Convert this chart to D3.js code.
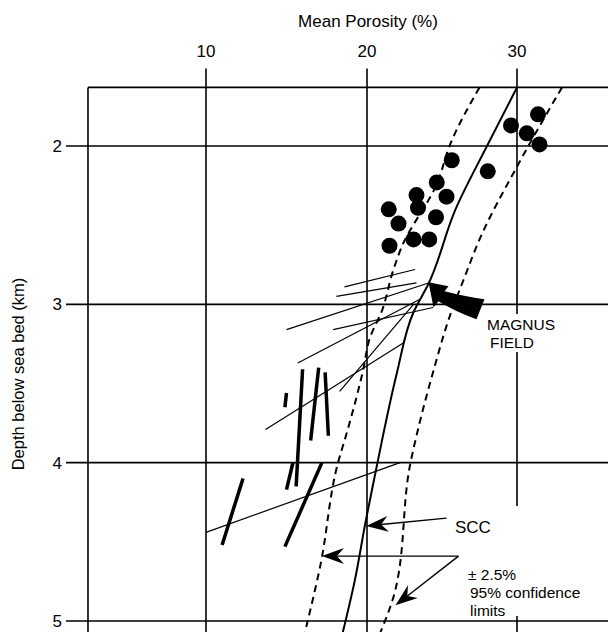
<!DOCTYPE html>
<html>
<head>
<meta charset="utf-8">
<script src="https://d3js.org/d3.v7.min.js"></script>
<style>
  body { margin: 0; background: #fff; }
  text { font-family: "Liberation Sans", Arial, sans-serif; fill: #000; }
</style>
</head>
<body>
<div class="chart"></div>
<script>
// ticks
var xTicks = [10, 20, 30];
var yTicks = [2, 3, 4, 5];

// SCC curve [porosity %, depth km]
var scc = [[30.0, 1.63], [28.0, 2.0], [25.9, 2.4], [24.1, 2.87], [23.1, 3.05],
           [22.0, 3.43], [21.0, 3.86], [20.7, 4.0], [19.9, 4.38], [19.25, 4.74], [18.5, 5.07]];
// 95% confidence limits (dashed)
var confLow = [[27.5, 1.63], [25.5, 2.0], [24.7, 2.23], [22.3, 2.64], [21.7, 2.8], [21.0, 3.04],
               [20.2, 3.21], [19.75, 3.42], [18.75, 3.81], [18.2, 4.0], [17.1, 4.65], [16.15, 5.07]];
var confHigh = [[33.0, 1.63], [30.0, 2.13], [27.5, 2.59], [26.5, 2.83], [25.5, 3.08], [24.4, 3.43],
                [23.4, 3.79], [22.9, 4.0], [21.9, 4.8], [20.9, 5.07]];

// core porosity points
var dotPor   = [31.4, 29.6, 30.65, 31.5, 25.65, 28.05, 24.65, 23.3, 25.3, 23.4, 21.45, 24.6, 22.1, 21.5, 23.1, 24.15];
var dotDepth = [1.80, 1.87, 1.92, 1.99, 2.09, 2.16, 2.23, 2.31, 2.32, 2.39, 2.40, 2.45, 2.49, 2.63, 2.59, 2.59];

// thin trend lines [p1, d1, p2, d2]
var thinLines = [
  [18.6, 2.89, 23.2, 2.78],
  [18.1, 2.95, 23.3, 2.865],
  [15.0, 3.16, 24.1, 2.865],
  [17.9, 3.16, 24.4, 3.02],
  [15.7, 3.37, 23.5, 2.97],
  [18.3, 3.55, 23.1, 3.0],
  [13.7, 3.79, 22.5, 3.24],
  [10.0, 4.44, 22.2, 4.0]
];
// thick well segments [p1, d1, p2, d2]
var thickLines = [
  [15.0, 3.56, 14.9, 3.65],
  [16.0, 3.41, 15.6, 4.15],
  [17.0, 3.40, 16.5, 3.86],
  [17.4, 3.43, 17.6, 3.83],
  [15.4, 4.0, 15.0, 4.17],
  [17.2, 4.0, 14.9, 4.53],
  [12.3, 4.1, 11.0, 4.52]
];

var frameLeft = 2.67, frameTop = 1.63;

function draw() {
  var W = 608, H = 632;
  var x = d3.scaleLinear().domain([10, 20, 30]).range([206, 367, 517]);
  var y = d3.scaleLinear().domain([2, 5]).range([146, 621]);

  var svg = d3.select('.chart').append('svg')
    .attr('width', W).attr('height', H);
  svg.append('rect').attr('width', W).attr('height', H).attr('fill', '#fff');

  var left = x(frameLeft), top = y(frameTop);

  // frame + grid
  var grid = svg.append('g').attr('stroke', '#000').attr('stroke-width', 1.6);
  grid.append('line').attr('x1', left).attr('x2', W).attr('y1', top).attr('y2', top);
  grid.append('line').attr('x1', left).attr('x2', left).attr('y1', top).attr('y2', H);
  grid.selectAll('.hg').data(yTicks).enter().append('line')
    .attr('x1', left - 22).attr('x2', W)
    .attr('y1', function(d) { return y(d); }).attr('y2', function(d) { return y(d); });
  grid.selectAll('.vg').data(xTicks).enter().append('line')
    .attr('y1', top - 19).attr('y2', H)
    .attr('x1', function(d) { return x(d); }).attr('x2', function(d) { return x(d); });

  // tick labels
  svg.selectAll('.xl').data(xTicks).enter().append('text')
    .attr('x', function(d) { return x(d); }).attr('y', 57)
    .attr('text-anchor', 'middle').attr('font-size', 17).text(function(d) { return d; });
  svg.selectAll('.yl').data(yTicks).enter().append('text')
    .attr('x', 62).attr('y', function(d) { return y(d) + 6; })
    .attr('text-anchor', 'end').attr('font-size', 17).text(function(d) { return d; });

  svg.append('text').attr('x', 368).attr('y', 27).attr('text-anchor', 'middle')
    .attr('font-size', 17).text('Mean Porosity (%)');
  svg.append('text').attr('transform', 'translate(24,374) rotate(-90)')
    .attr('text-anchor', 'middle').attr('font-size', 16.5).text('Depth below sea bed (km)');

  var line = d3.line()
    .x(function(d) { return x(d[0]); })
    .y(function(d) { return y(d[1]); })
    .curve(d3.curveMonotoneY);

  // label backgrounds interrupt the grid
  svg.append('rect').attr('x', 484).attr('y', 314).attr('width', 76).attr('height', 38).attr('fill', '#fff');
  svg.append('rect').attr('x', 457).attr('y', 506).attr('width', 151).attr('height', 110).attr('fill', '#fff');

  // thin lines
  svg.append('g').selectAll('line').data(thinLines).enter().append('line')
    .attr('x1', function(d) { return x(d[0]); }).attr('y1', function(d) { return y(d[1]); })
    .attr('x2', function(d) { return x(d[2]); }).attr('y2', function(d) { return y(d[3]); })
    .attr('stroke', '#000').attr('stroke-width', 1.2);

  // thick segments
  svg.append('g').selectAll('line').data(thickLines).enter().append('line')
    .attr('x1', function(d) { return x(d[0]); }).attr('y1', function(d) { return y(d[1]); })
    .attr('x2', function(d) { return x(d[2]); }).attr('y2', function(d) { return y(d[3]); })
    .attr('stroke', '#000').attr('stroke-width', 3.5);

  // curves
  svg.append('path').datum(scc).attr('d', line)
    .attr('fill', 'none').attr('stroke', '#000').attr('stroke-width', 2);
  [confLow, confHigh].forEach(function(c) {
    svg.append('path').datum(c).attr('d', line)
      .attr('fill', 'none').attr('stroke', '#000').attr('stroke-width', 2)
      .attr('stroke-dasharray', '7,5');
  });

  // dots
  svg.append('g').selectAll('circle').data(dotPor).enter().append('circle')
    .attr('cx', function(d) { return x(d); })
    .attr('cy', function(d, i) { return y(dotDepth[i]); })
    .attr('r', 8).attr('fill', '#000');

  // arrows
  function arrow(p1, d1, p2, d2) {
    var x1 = x(p1), y1 = y(d1), x2 = x(p2), y2 = y(d2);
    var a = Math.atan2(y2 - y1, x2 - x1);
    var L = 22, w = 8, n = 15;
    var bx = x2 - L * Math.cos(a), by = y2 - L * Math.sin(a);
    var nx = x2 - n * Math.cos(a), ny = y2 - n * Math.sin(a);
    svg.append('line').attr('x1', x1).attr('y1', y1).attr('x2', nx).attr('y2', ny)
      .attr('stroke', '#000').attr('stroke-width', 1.4);
    svg.append('path')
      .attr('d', 'M' + x2 + ',' + y2 +
        'L' + (bx + w * Math.sin(a)) + ',' + (by - w * Math.cos(a)) +
        'L' + nx + ',' + ny +
        'L' + (bx - w * Math.sin(a)) + ',' + (by + w * Math.cos(a)) + 'Z')
      .attr('fill', '#000');
  }
  arrow(25.3, 4.35, 19.95, 4.40);
  arrow(26.1, 4.59, 17.2, 4.59);
  arrow(26.1, 4.59, 21.9, 4.9);

  // Magnus field arrow
  var ax = x(24.1), ay = y(2.86);
  svg.append('path')
    .attr('d', 'M' + ax + ',' + ay +
      'l20,4 l-4,5 q24,6 40,8 l-8,20 q-22,-8 -38,-18 l-5,6 z')
    .attr('fill', '#000');

  svg.append('text').attr('x', 487).attr('y', 330).attr('font-size', 15.5).text('MAGNUS');
  svg.append('text').attr('x', 490).attr('y', 348).attr('font-size', 15.5).text('FIELD');
  svg.append('text').attr('x', 455).attr('y', 533).attr('font-size', 17).text('SCC');
  svg.append('text').attr('x', 468).attr('y', 580).attr('font-size', 15.5).text('\u00b1 2.5%');
  svg.append('text').attr('x', 470).attr('y', 598).attr('font-size', 15.5).text('95% confidence');
  svg.append('text').attr('x', 470).attr('y', 616).attr('font-size', 15.5).text('limits');
}
draw();
</script>
</body>
</html>
